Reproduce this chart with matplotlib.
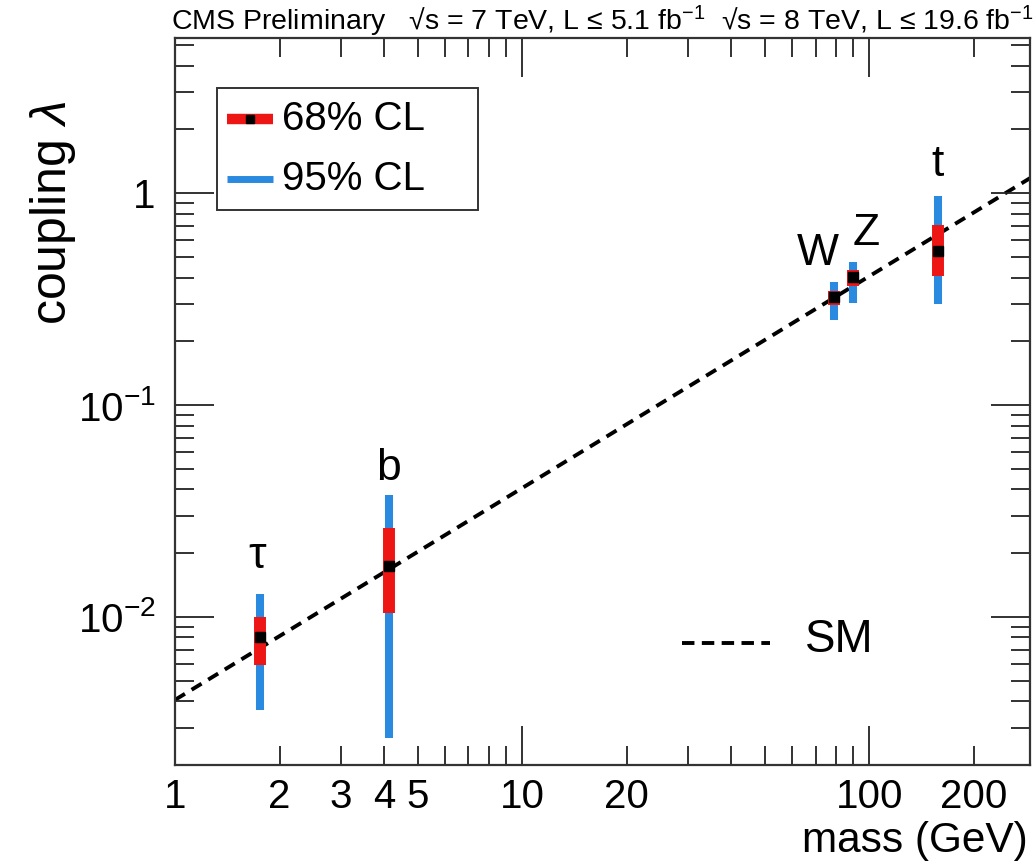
import matplotlib
matplotlib.use("Agg")
import matplotlib.pyplot as plt
from matplotlib.patches import Rectangle
from matplotlib.ticker import LogLocator, NullFormatter, FixedLocator, FixedFormatter, FuncFormatter

plt.rcParams['font.family'] = ['Liberation Sans', 'DejaVu Sans']
plt.rcParams['mathtext.fontset'] = 'custom'
plt.rcParams['mathtext.rm'] = 'Liberation Sans'
plt.rcParams['mathtext.it'] = 'Liberation Sans:italic'

# ---- data ----
particles = ['τ', 'b', 'W', 'Z', 't']
mass = [1.76, 4.13, 79.3, 90.0, 158.0]
coupling = [0.0080, 0.0174, 0.323, 0.402, 0.533]
lo68 = [0.0059, 0.0104, 0.296, 0.364, 0.406]
hi68 = [0.0100, 0.0263, 0.345, 0.433, 0.706]
lo95 = [0.00364, 0.00269, 0.252, 0.303, 0.300]
hi95 = [0.0129, 0.0376, 0.380, 0.473, 0.968]
label_y = [0.0170, 0.0443, 0.457, 0.568, 1.20]
label_dx = [0.98, 1.0, 0.894, 1.089, 0.995]
sm_mass = [1.0, 300.0]
sm_coupling = [0.00406, 1.218]

x_major = [1, 10, 100]
x_minor_labels = {2: '2', 3: '3', 4: '4', 5: '5', 20: '20', 200: '200'}
y_ticks = [0.01, 0.1, 1]
y_ticklabels = ['$10^{-2}$', '$10^{-1}$', '1']

fig = plt.figure(figsize=(10.33, 8.66), dpi=100)
ax = fig.add_axes([0.1694, 0.1166, 0.8276, 0.8394])
ax.set_xscale('log')
ax.set_yscale('log')
ax.set_xlim(1, 290)
ax.set_ylim(0.002, 5.4)

blue = '#2a8ae0'
red = '#ee1515'
dash = (0, (3, 2.0))

ax.plot(sm_mass, sm_coupling, ls=dash, color='black', lw=2.8, zorder=1)

for m, c, l6, h6, l9, h9, name, ly, dx in zip(mass, coupling, lo68, hi68, lo95, hi95, particles, label_y, label_dx):
    ax.vlines(m, l9, h9, color=blue, lw=5.8, zorder=2)
    ax.vlines(m, l6, h6, color=red, lw=8.6, zorder=3)
    ax.plot([m], [c], marker='s', ms=6.5, color='black', mec='black', zorder=4)
    ax.text(m * dx, ly, name, ha='center', va='baseline', fontsize=32, zorder=5)

ax.xaxis.set_major_locator(FixedLocator(x_major))
ax.xaxis.set_major_formatter(FixedFormatter([str(v) for v in x_major]))
ax.xaxis.set_minor_locator(LogLocator(base=10, subs=range(2, 10), numticks=20))
ax.xaxis.set_minor_formatter(FuncFormatter(lambda v, p: x_minor_labels.get(int(round(v)), '')
                                           if abs(v - round(v)) < 1e-6 else ''))
ax.yaxis.set_major_locator(FixedLocator(y_ticks))
ax.yaxis.set_major_formatter(FixedFormatter(y_ticklabels))
ax.yaxis.set_minor_locator(LogLocator(base=10, subs=range(2, 10), numticks=20))
ax.yaxis.set_minor_formatter(NullFormatter())

ax.tick_params(which='both', direction='in', top=True, right=True, width=1.3, colors='#222222',
               labelcolor='black')
ax.tick_params(which='major', length=28, labelsize=29, pad=12)
ax.tick_params(which='minor', length=14)
ax.tick_params(axis='x', which='both', labelsize=29, pad=9)
ax.tick_params(axis='y', which='major', pad=14)
for s in ax.spines.values():
    s.set_linewidth(1.6)
    s.set_color('#333333')

ax.set_xlabel('mass (GeV)', fontsize=30.5, loc='right')
ax.xaxis.set_label_coords(0.997, -0.077)
ax.set_ylabel('coupling $\\lambda$', fontsize=36)
ax.yaxis.set_label_coords(-0.113, 0.76)

# legend box (drawn in axes coordinates)
T = ax.transAxes
ax.add_patch(Rectangle((0.0491, 0.7634), 0.3053, 0.1678, transform=T, fill=True, facecolor='white',
                       edgecolor='#333333', lw=1.4, zorder=6))
ax.plot([0.0608, 0.1146], [0.8886, 0.8886], transform=T, color=red, lw=7.5, zorder=7,
        solid_capstyle='butt')
ax.plot([0.0877], [0.8886], transform=T, marker='s', ms=5.5, color='black', zorder=8)
ax.plot([0.0608, 0.1146], [0.806, 0.806], transform=T, color=blue, lw=5, zorder=7,
        solid_capstyle='butt')
ax.text(0.1251, 0.8886, '68% CL', transform=T, fontsize=29, va='center', ha='left', zorder=8)
ax.text(0.1251, 0.806, '95% CL', transform=T, fontsize=29, va='center', ha='left', zorder=8)

# SM legend
ax.plot([0.593, 0.696], [0.168, 0.168], transform=T, ls=(0, (3.2, 1.9)), color='black', lw=2.8)
ax.text(0.737, 0.172, 'SM', transform=T, fontsize=33, va='center', ha='left')

fig.text(0.166, 0.975, 'CMS Preliminary   √s = 7 TeV, L ≤ 5.1 fb$^{-1}$  √s = 8 TeV, L ≤ 19.6 fb$^{-1}$',
         fontsize=20.5, ha='left', va='center')

fig.savefig('out.png', dpi=100)
